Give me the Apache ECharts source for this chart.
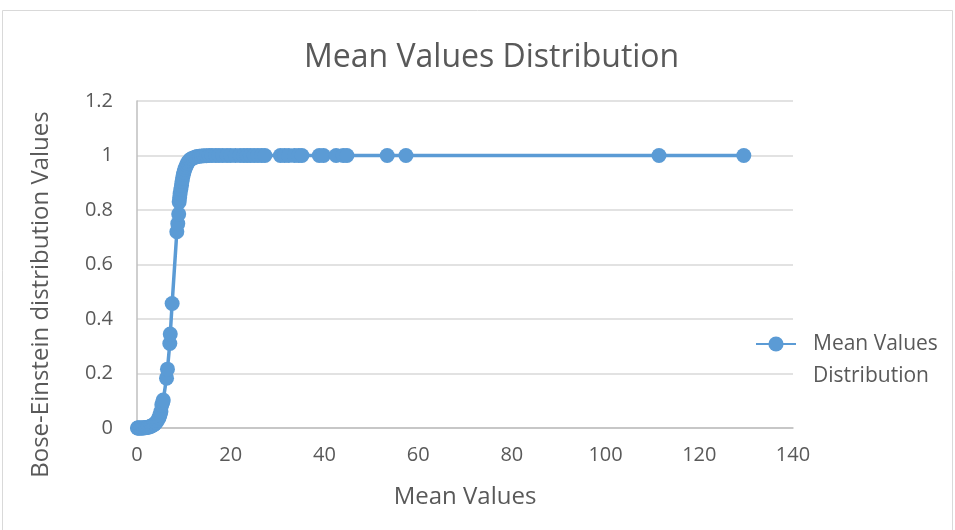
<!DOCTYPE html>
<html>
<head>
<meta charset="utf-8">
<script src="https://cdn.jsdelivr.net/npm/echarts@6/dist/echarts.min.js"></script>
<style>
  html, body { margin: 0; padding: 0; background: #fff; }
  #main { width: 955px; height: 530px; }
</style>
</head>
<body>
<div id="main"></div>
<script>
// mean values (x) and Bose-Einstein distribution values (y)
const meanValues = [
  0.1, 0.2, 0.3, 0.5, 0.7, 0.9, 1.1, 1.3, 1.5, 1.8, 2.0, 2.3, 2.6, 2.9, 3.2, 3.5, 3.8, 4.1, 4.4, 4.7,
  4.9, 5.1, 5.3, 5.5, 5.6, 6.3, 6.5, 7.0, 7.1, 7.5, 8.5, 8.7, 8.9, 9.0, 9.1, 9.2, 9.35, 9.5, 9.6, 9.75,
  9.9, 10.05, 10.2, 10.4, 10.6, 10.8, 11.0, 11.3, 11.6, 12.0, 12.4, 12.8, 13.3, 13.8, 14.3, 14.8, 15.4, 16.0, 16.8, 17.5,
  18.3, 19.2, 20.0, 21.0, 22.0, 22.8, 23.5, 24.2, 25.0, 25.8, 26.6, 27.3, 30.6, 31.5, 32.4, 33.6, 34.5, 35.2, 38.9, 39.8,
  42.5, 44.0, 44.8, 53.4, 57.4, 111.4, 129.5
];
const beValues = [
  0, 0, 0, 0, 0, 0, 0, 0, 0.001, 0.001, 0.002, 0.003, 0.004, 0.006, 0.008, 0.011, 0.015, 0.02, 0.028, 0.038,
  0.048, 0.06, 0.085, 0.095, 0.103, 0.183, 0.216, 0.31, 0.345, 0.457, 0.72, 0.75, 0.785, 0.83, 0.845, 0.86, 0.875, 0.89, 0.905, 0.918,
  0.93, 0.94, 0.95, 0.958, 0.966, 0.973, 0.979, 0.984, 0.988, 0.991, 0.994, 0.996, 0.997, 0.998, 0.999, 0.999, 1, 1, 1, 1,
  1, 1, 1, 1, 1, 1, 1, 1, 1, 1, 1, 1, 1, 1, 1, 1, 1, 1, 1, 1,
  1, 1, 1, 1, 1, 1, 1
];
const seriesName = 'Mean Values Distribution';

const textColor = '#595959';
const font = '"Open Sans", "Liberation Sans", sans-serif';

const points = meanValues.map((x, i) => [x, beValues[i]]);

const myChart = echarts.init(document.getElementById('main'));
const option = {
    animation: false,
    backgroundColor: '#fff',
    textStyle: { fontFamily: font },
    title: {
        text: 'Mean Values Distribution',
        left: 299,
        top: 37,
        textStyle: { fontFamily: font, fontSize: 32, fontWeight: 'normal', color: textColor }
    },
    graphic: [{
        type: 'rect',
        shape: { x: 2.5, y: 10.5, width: 950, height: 530 },
        style: { fill: 'none', stroke: '#d9d9d9', lineWidth: 1 },
        silent: true
    }],
    legend: {
        data: [seriesName],
        orient: 'vertical',
        left: 750,
        top: 291,
        itemWidth: 40,
        itemHeight: 19,
        // empty first line so the icon sits beside the first text line
        formatter: () => '{t| }\n{t|Mean Values}\n{t|Distribution}',
        textStyle: {
            fontFamily: font, fontSize: 21, color: textColor, lineHeight: 32,
            rich: { t: { fontFamily: font, fontSize: 21, color: textColor, lineHeight: 32, padding: [0, 0, 0, 12] } }
        }
    },
    grid: { left: 137, right: 162, top: 101, bottom: 102 },
    xAxis: {
        type: 'value',
        min: 0,
        max: 140,
        interval: 20,
        name: 'Mean Values',
        nameLocation: 'middle',
        nameGap: 57,
        nameTextStyle: { fontFamily: font, fontSize: 24, color: textColor },
        axisLine: { show: true, lineStyle: { color: '#bfbfbf', width: 1.5 } },
        axisTick: { show: false },
        splitLine: { show: false },
        axisLabel: { fontFamily: font, fontSize: 20, color: textColor, margin: 17 }
    },
    yAxis: {
        type: 'value',
        min: 0,
        max: 1.2,
        interval: 0.2,
        name: 'Bose-Einstein distribution Values',
        nameLocation: 'middle',
        nameGap: 84,
        nameTextStyle: { fontFamily: font, fontSize: 24, color: textColor, padding: [0, 60, 0, 0] },
        axisLine: { show: true, lineStyle: { color: '#bfbfbf', width: 1.5 } },
        axisTick: { show: false },
        splitLine: { show: true, lineStyle: { color: '#d9d9d9', width: 1.5 } },
        axisLabel: {
            fontFamily: font, fontSize: 20, color: textColor, margin: 24,
            formatter: v => String(Math.round(v * 10) / 10)
        }
    },
    series: [{
        name: seriesName,
        type: 'line',
        data: points,
        symbol: 'circle',
        symbolSize: 15,
        showAllSymbol: true,
        color: '#5b9bd5',
        lineStyle: { width: 3.5, color: '#5b9bd5' },
        itemStyle: { color: '#5b9bd5' }
    }]
};
myChart.setOption(option);
</script>
</body>
</html>
